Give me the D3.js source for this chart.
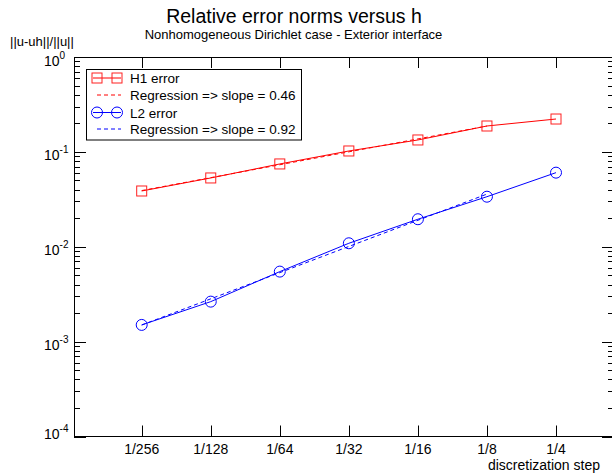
<!DOCTYPE html>
<html><head><meta charset="utf-8">
<script src="https://cdn.jsdelivr.net/npm/d3@7"></script>
<style>body{margin:0;background:#fff}svg{display:block;font-family:"Liberation Sans",Arial,sans-serif}</style>
</head><body><svg id="c" width="612" height="475"></svg>
<script>
// ---- data ----
const hLabels = ["1/256","1/128","1/64","1/32","1/16","1/8","1/4"];
const hValues = [1/256,1/128,1/64,1/32,1/16,1/8,1/4];
const h1Error = [0.0387,0.0531,0.0746,0.1022,0.1335,0.1874,0.222];
const l2Error = [0.0015,0.00264,0.00547,0.01088,0.0195,0.0337,0.0604];
const regH = [1/256, 1/8];
const regH1 = [0.0391, 0.1873];
const regL2 = [0.001496, 0.0359];
const yTickExp = [0,-1,-2,-3,-4];
const legendLabels = ["H1 error","Regression => slope = 0.46","L2 error","Regression => slope = 0.92"];

// ---- layout ----
const L = 74, R = 614, T = 57, B = 436.5;
const svg = d3.select("#c");
const x = d3.scaleLog().base(2).domain([1/256, 1/4]).range([141.7, 556]);
const y = d3.scaleLog().domain([1e-4, 1]).range([B, T]);

// frame
svg.append("rect").attr("x",L+0.5).attr("y",T+0.5).attr("width",R-L).attr("height",B-T-0.5)
  .attr("fill","none").attr("stroke","#000").attr("stroke-width",1);

// y ticks (major + minor), left and right
const g = svg.append("g").attr("stroke","#000").attr("stroke-width",1);
for (let e = -4; e <= 0; e++) {
  const yy = Math.round(y(Math.pow(10,e)))+0.5;
  g.append("line").attr("x1",L).attr("x2",L+12).attr("y1",yy).attr("y2",yy);
  g.append("line").attr("x1",R).attr("x2",R-12).attr("y1",yy).attr("y2",yy);
  if (e < 0) for (let m = 2; m <= 9; m++) {
    const ym = Math.round(y(m*Math.pow(10,e)))+0.5;
    g.append("line").attr("x1",L).attr("x2",L+6).attr("y1",ym).attr("y2",ym);
    g.append("line").attr("x1",R).attr("x2",R-6).attr("y1",ym).attr("y2",ym);
  }
}
// x ticks top and bottom
hValues.forEach(h => {
  const xx = Math.round(x(h))+0.5;
  g.append("line").attr("x1",xx).attr("x2",xx).attr("y1",T).attr("y2",T+11);
  g.append("line").attr("x1",xx).attr("x2",xx).attr("y1",B).attr("y2",B-11);
});

// y tick labels
yTickExp.forEach((e,i) => {
  const yy = y(Math.pow(10,e));
  const t = svg.append("text").attr("x",44).attr("y", yy + (e===-4 ? 2.5 : 8.5))
    .attr("font-size",14).attr("fill","#000");
  t.append("tspan").text("10");
  t.append("tspan").attr("font-size",10).attr("dy",-7).text(String(e));
});
// x tick labels
hValues.forEach((h,i) => {
  svg.append("text").attr("x",x(h)).attr("y",453.5).attr("text-anchor","middle")
    .attr("font-size",14).attr("fill","#000").text(hLabels[i]);
});
svg.append("text").attr("x",600).attr("y",469.5).attr("text-anchor","end")
  .attr("font-size",14).text("discretization step");
svg.append("text").attr("x",10).attr("y",46).attr("font-size",13).text("||u-uh||/||u||");
svg.append("text").attr("x",294).attr("y",23).attr("text-anchor","middle")
  .attr("font-size",19.5).text("Relative error norms versus h");
svg.append("text").attr("x",293.5).attr("y",38.5).attr("text-anchor","middle")
  .attr("font-size",13).text("Nonhomogeneous Dirichlet case - Exterior interface");

// data lines
const line = d3.line().x(d => x(d[0])).y(d => y(d[1]));
const h1Pts = hValues.map((h,i) => [h, h1Error[i]]);
const l2Pts = hValues.map((h,i) => [h, l2Error[i]]);
svg.append("path").attr("d", line(regH.map((h,i)=>[h,regH1[i]]))).attr("fill","none")
  .attr("stroke","#ff0000").attr("stroke-width",1).attr("stroke-dasharray","4,3");
svg.append("path").attr("d", line(regH.map((h,i)=>[h,regL2[i]]))).attr("fill","none")
  .attr("stroke","#0000ff").attr("stroke-width",1).attr("stroke-dasharray","4,3");
svg.append("path").attr("d", line(h1Pts)).attr("fill","none").attr("stroke","#ff0000").attr("stroke-width",1);
svg.append("path").attr("d", line(l2Pts)).attr("fill","none").attr("stroke","#0000ff").attr("stroke-width",1);
svg.selectAll(".sq").data(h1Pts).enter().append("rect")
  .attr("x",d=>x(d[0])-5).attr("y",d=>y(d[1])-5).attr("width",10).attr("height",10)
  .attr("fill","none").attr("stroke","#ff2020").attr("stroke-width",1);
svg.selectAll(".ci").data(l2Pts).enter().append("circle")
  .attr("cx",d=>x(d[0])).attr("cy",d=>y(d[1])).attr("r",5.5)
  .attr("fill","none").attr("stroke","#0000ff").attr("stroke-width",1);

// legend
const lg = svg.append("g");
lg.append("rect").attr("x",86.5).attr("y",69.5).attr("width",215).attr("height",70.5)
  .attr("fill","#fff").attr("stroke","#000").attr("stroke-width",1);
const rows = [78, 95, 112.5, 129];
const colors = ["#ff0000","#ff0000","#0000ff","#0000ff"];
rows.forEach((ry,i) => {
  if (i % 2 === 0) {
    lg.append("line").attr("x1",93).attr("x2",121).attr("y1",ry).attr("y2",ry).attr("stroke",colors[i]);
    [97,117].forEach(cx => {
      if (i === 0) lg.append("rect").attr("x",cx-5).attr("y",ry-5).attr("width",10).attr("height",10)
        .attr("fill","none").attr("stroke","#ff2020");
      else lg.append("circle").attr("cx",cx).attr("cy",ry).attr("r",5.5).attr("fill","none").attr("stroke",colors[i]);
    });
  } else {
    lg.append("line").attr("x1",97).attr("x2",121).attr("y1",ry).attr("y2",ry).attr("stroke",colors[i])
      .attr("stroke-dasharray","4,3");
  }
  lg.append("text").attr("x",130).attr("y",ry+5).attr("font-size",13.5).text(legendLabels[i]);
});
</script></body></html>
